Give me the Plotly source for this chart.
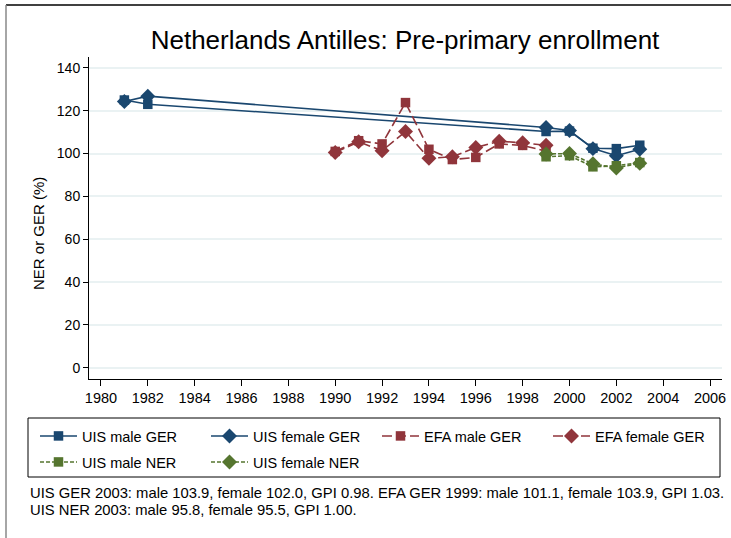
import plotly.graph_objects as go

# ---- data ----
uis_ger_years = [1981, 1982, 1999, 2000, 2001, 2002, 2003]
uis_male_ger = [125.0, 123.0, 110.3, 110.5, 102.5, 102.3, 103.9]
uis_female_ger = [124.3, 126.8, 112.2, 110.8, 102.3, 99.0, 102.0]

efa_years = [1990, 1991, 1992, 1993, 1994, 1995, 1996, 1997, 1998, 1999]
efa_male_ger = [101.0, 106.0, 104.5, 123.8, 102.0, 97.2, 98.2, 104.5, 103.8, 101.1]
efa_female_ger = [100.5, 105.5, 101.3, 110.3, 97.8, 98.5, 102.8, 105.8, 105.0, 103.9]

ner_years = [1999, 2000, 2001, 2002, 2003]
uis_male_ner = [98.5, 99.0, 93.8, 94.3, 95.8]
uis_female_ner = [99.8, 100.0, 95.2, 93.3, 95.5]

x_ticks = [1980, 1982, 1984, 1986, 1988, 1990, 1992, 1994, 1996, 1998, 2000, 2002, 2004, 2006]
y_ticks = [0, 20, 40, 60, 80, 100, 120, 140]

title_text = "Netherlands Antilles: Pre-primary enrollment"
y_title = "NER or GER (%)"
note_lines = [
    "UIS GER 2003: male 103.9, female 102.0, GPI 0.98. EFA GER 1999: male 101.1, female 103.9, GPI 1.03.",
    "UIS NER 2003: male 95.8, female 95.5, GPI 1.00.",
]

NAVY = "#1a476f"
MAROON = "#90353b"
GREEN = "#55752f"
FONT = "Liberation Sans, Arial, sans-serif"

W, H = 731, 538
L, R, T, B = 89, 9, 57, 159
PW, PH = W - L - R, H - T - B


def px(xp):
    return (xp - L) / PW


def py(yp):
    return (H - B - yp) / PH


fig = go.Figure()

series = [
    ("UIS male GER", uis_ger_years, uis_male_ger, NAVY, "solid", "square", 9.5, "legend"),
    ("UIS female GER", uis_ger_years, uis_female_ger, NAVY, "solid", "diamond", 11.5, "legend"),
    ("EFA male GER", efa_years, efa_male_ger, MAROON, "10px,4px", "square", 9.5, "legend"),
    ("EFA female GER", efa_years, efa_female_ger, MAROON, "10px,4px", "diamond", 11.5, "legend"),
    ("UIS male NER", ner_years, uis_male_ner, GREEN, "4px,2px", "square", 9.5, "legend2"),
    ("UIS female NER", ner_years, uis_female_ner, GREEN, "4px,2px", "diamond", 11.5, "legend2"),
]

for name, xs, ys, col, dash, sym, size, lg in series:
    fig.add_trace(go.Scatter(
        x=xs, y=ys, name=name, mode="lines+markers",
        line=dict(color=col, width=1.6, dash=dash),
        marker=dict(symbol=sym, size=size, color=col, line=dict(width=0)),
        legend=lg,
    ))

legend_common = dict(
    orientation="h", xanchor="left", yanchor="middle",
    bgcolor="rgba(0,0,0,0)", borderwidth=0,
    font=dict(family=FONT, size=14.5, color="#000000"),
    itemwidth=37, entrywidth=119, entrywidthmode="pixels",
    traceorder="normal",
)

fig.update_layout(
    width=W, height=H,
    margin=dict(l=L, r=R, t=T, b=B, autoexpand=False),
    paper_bgcolor="white", plot_bgcolor="white",
    font=dict(family=FONT, size=14.5, color="#000000"),
    title=dict(text=title_text, x=405 / W, xanchor="center", xref="container",
               y=1 - 40 / H, yanchor="middle", yref="container",
               font=dict(family=FONT, size=26, color="#000000")),
    xaxis=dict(range=[1979.49, 2006.51], tickvals=x_ticks, showgrid=False,
               zeroline=False, showline=True, linecolor="#000000", linewidth=1,
               ticks="outside", ticklen=6, tickcolor="#000000", tickwidth=1,
               tickfont=dict(size=14.5), automargin=False),
    yaxis=dict(range=[-5.3, 145.1], tickvals=y_ticks, showgrid=True,
               gridcolor="#eaf2f3", gridwidth=1.5, zeroline=False,
               showline=True, linecolor="#000000", linewidth=1,
               ticks="outside", ticklen=5, tickcolor="#000000", tickwidth=1,
               tickfont=dict(size=14), automargin=False),
    legend=dict(x=px(35), y=py(436), **legend_common),
    legend2=dict(x=px(35), y=py(462), **legend_common),
    showlegend=True,
)

# y-axis title
fig.add_annotation(text=y_title, xref="paper", yref="paper",
                   x=px(38), y=py(234), xanchor="center", yanchor="middle",
                   textangle=-90, showarrow=False,
                   font=dict(family=FONT, size=15, color="#000000"))

# legend frame and outer graph frame
fig.add_shape(type="rect", xref="paper", yref="paper",
              x0=px(28), x1=px(720), y0=py(477), y1=py(418),
              line=dict(color="#000000", width=1), fillcolor="rgba(0,0,0,0)")
fig.add_shape(type="line", xref="paper", yref="paper",
              x0=px(6), x1=px(740), y0=py(5), y1=py(5),
              line=dict(color="#000000", width=1.5))
fig.add_shape(type="line", xref="paper", yref="paper",
              x0=px(6), x1=px(6), y0=py(5), y1=py(545),
              line=dict(color="#888888", width=1.5))

for txt, yp in zip(note_lines, [493, 510]):
    fig.add_annotation(text=txt, xref="paper", yref="paper",
                       x=px(28), y=py(yp), xanchor="left", yanchor="middle",
                       showarrow=False, align="left",
                       font=dict(family=FONT, size=14.8, color="#000000"))

fig.write_html("out.html", config={"displayModeBar": False},
               post_script="document.body.style.margin='0px';")
